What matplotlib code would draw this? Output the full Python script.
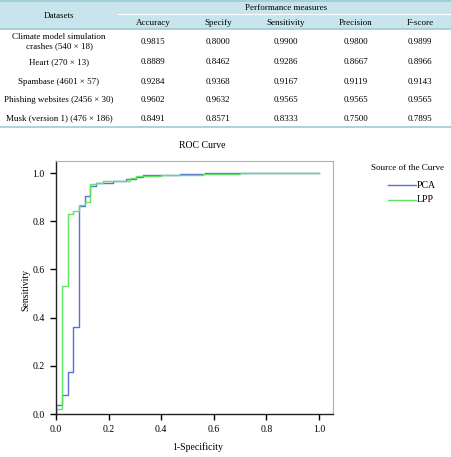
import matplotlib
matplotlib.use("Agg")
import matplotlib.pyplot as plt
from matplotlib.patches import Rectangle
from matplotlib.lines import Line2D

plt.rcParams['font.family'] = ['Liberation Serif', 'DejaVu Serif']

# Table data
datasets = [["Climate model simulation", "crashes (540 \u00d7 18)"],
            ["Heart (270 \u00d7 13)"],
            ["Spambase (4601 \u00d7 57)"],
            ["Phishing websites (2456 \u00d7 30)"],
            ["Musk (version 1) (476 \u00d7 186)"]]
measures = ["Accuracy", "Specify", "Sensitivity", "Precision", "F-score"]
accuracy = ["0.9815", "0.8889", "0.9284", "0.9602", "0.8491"]
specify = ["0.8000", "0.8462", "0.9368", "0.9632", "0.8571"]
sensitivity = ["0.9900", "0.9286", "0.9167", "0.9565", "0.8333"]
precision = ["0.9800", "0.8667", "0.9119", "0.9565", "0.7500"]
fscore = ["0.9899", "0.8966", "0.9143", "0.9565", "0.7895"]

# ROC curve data (fpr, tpr) step points
pca_fpr = [0.0, 0.0, 0.024, 0.044, 0.066, 0.089, 0.11, 0.129, 0.152, 0.218,
           0.268, 0.306, 0.329, 0.471, 0.566, 1.0]
pca_tpr = [0.0, 0.037, 0.079, 0.174, 0.36, 0.864, 0.903, 0.947, 0.958, 0.967,
           0.975, 0.985, 0.993, 0.997, 1.0, 1.0]
lpp_fpr = [0.0, 0.0, 0.024, 0.046, 0.066, 0.089, 0.11, 0.13, 0.152, 0.18,
           0.281, 0.306, 0.40, 0.56, 0.70, 1.0]
lpp_tpr = [0.0, 0.021, 0.533, 0.832, 0.843, 0.867, 0.88, 0.953, 0.958, 0.967,
           0.978, 0.989, 0.993, 0.997, 1.0, 1.0]

W, H = 452, 457
fig = plt.figure(figsize=(W / 100, H / 100), dpi=100)


def fx(px):
    return px / W


def fy(py):
    return 1 - py / H


# ---- table ----
fig.patches.append(Rectangle((0, fy(29)), 1, 29 / H, transform=fig.transFigure,
                             facecolor="#c8e4ec", edgecolor="none", zorder=0))
for py in [0.5, 29, 127]:
    fig.add_artist(Line2D([0, 1], [fy(py), fy(py)], color="#9ccbd8", lw=1.2))
fig.add_artist(Line2D([fx(118), 1], [fy(14), fy(14)], color="#ffffff", lw=0.8))

tfs = 6.5
fig.text(fx(59), fy(15.5), "Datasets", ha="center", va="center", fontsize=tfs)
fig.text(fx(286), fy(8), "Performance measures", ha="center", va="center", fontsize=tfs)
col_x = [153, 218, 286, 356, 420]
for cx, m in zip(col_x, measures):
    fig.text(fx(cx), fy(23), m, ha="center", va="center", fontsize=tfs)

row_y = [41.5, 62.5, 81.5, 100.5, 118.5]
cols = [accuracy, specify, sensitivity, precision, fscore]
for i, ry in enumerate(row_y):
    fig.text(fx(59), fy(ry), "\n".join(datasets[i]), ha="center", va="center",
             fontsize=tfs, linespacing=1.25)
    for cx, col in zip(col_x, cols):
        fig.text(fx(cx), fy(ry), col[i], ha="center", va="center", fontsize=tfs)

# ---- ROC plot ----
ax = fig.add_axes([fx(56), fy(414), fx(333) - fx(56), fy(161) - fy(414)])
ax.plot(pca_fpr, pca_tpr, drawstyle="steps-post", color="#5b70d8", lw=1.0, label="PCA")
ax.plot(lpp_fpr, lpp_tpr, drawstyle="steps-post", color="#62e262", lw=1.0, label="LPP")
ax.set_xlim(0, 1.053)
ax.set_ylim(0, 1.05)
ax.set_xticks([0, 0.2, 0.4, 0.6, 0.8, 1.0])
ax.set_yticks([0, 0.2, 0.4, 0.6, 0.8, 1.0])
ax.set_xticklabels(["0.0", "0.2", "0.4", "0.6", "0.8", "1.0"])
ax.set_yticklabels(["0.0", "0.2", "0.4", "0.6", "0.8", "1.0"])
ax.tick_params(labelsize=7, length=4, width=1, direction="out", pad=4)
for s in ["left", "bottom"]:
    ax.spines[s].set_color("#222222")
    ax.spines[s].set_linewidth(1.0)
for s in ["right", "top"]:
    ax.spines[s].set_color("#a8b4b8")
    ax.spines[s].set_linewidth(0.8)

fig.text(fx(202), fy(145), "ROC Curve", ha="center", va="center", fontsize=7)
fig.text(fx(198), fy(447), "1-Specificity", ha="center", va="center", fontsize=7)
fig.text(fx(26), fy(290), "Sensitivity", ha="center", va="center", fontsize=7, rotation=90)

# legend drawn by hand
fig.text(fx(408), fy(168), "Source of the Curve", ha="center", va="center", fontsize=6.5)
for ly, lab, c in [(185, "PCA", "#5b70d8"), (200, "LPP", "#62e262")]:
    fig.add_artist(Line2D([fx(388), fx(416)], [fy(ly), fy(ly)], color=c, lw=1.0))
    fig.text(fx(417), fy(ly), lab, ha="left", va="center", fontsize=7)

fig.savefig("out.png", dpi=100)
